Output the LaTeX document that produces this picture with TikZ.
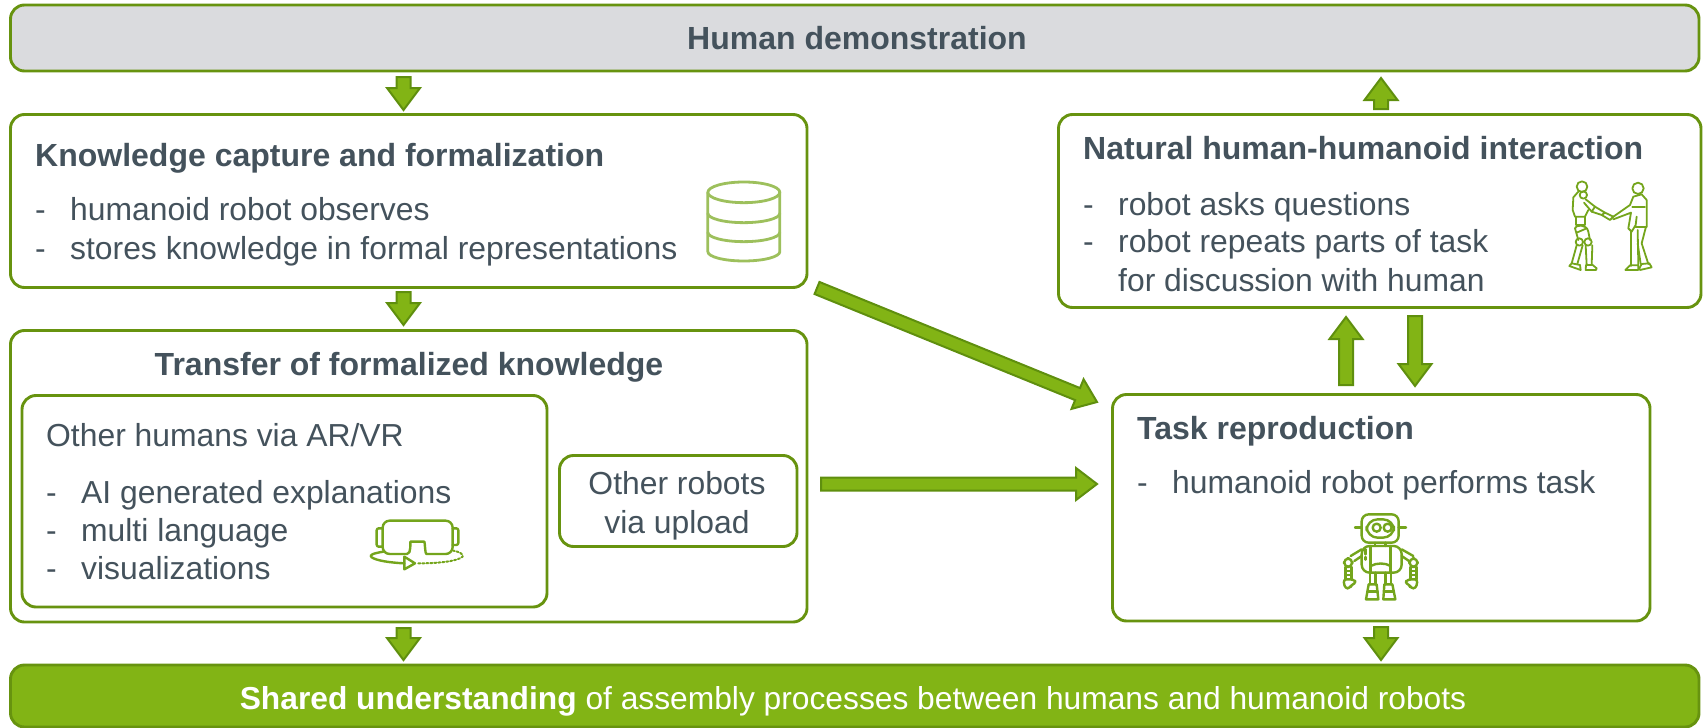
\documentclass[tikz,border=0pt]{standalone}
\usepackage{fontspec}
\setmainfont{Liberation Sans}
\usetikzlibrary{calc}
\definecolor{grn}{HTML}{82B415}
\definecolor{grnd}{HTML}{5F8F0E}
\definecolor{bord}{HTML}{67930F}
\definecolor{txt}{HTML}{44525C}
\definecolor{gry}{HTML}{DADBDE}
\definecolor{iconc}{HTML}{9DC05C}
\definecolor{iconb}{HTML}{74A51C}
\tikzset{
  box/.style={draw=bord,line width=2.9pt,rounded corners=14pt,fill=white,inner sep=0pt,outer sep=0pt,anchor=north west},
  ttl/.style={font=\fontsize{32}{36}\selectfont\bfseries,text=txt,inner sep=0pt,anchor=mid west,yshift=-8pt},
  ttlc/.style={ttl,anchor=mid},
  body/.style={font=\fontsize{31.85}{36}\selectfont,text=txt,inner sep=0pt,anchor=mid west,yshift=-9pt},
  bodyc/.style={body,anchor=mid},
  blk/.style={draw=grnd,fill=grn,line width=2pt,miter limit=10},
  ic/.style={draw=iconb,line width=2.4pt,line cap=round,line join=round,fill=none},
}
\newcommand{\rbox}[6]{\node[box,minimum width=#4pt-#2pt,minimum height=#5pt-#3pt,#6] (#1) at (#2,#3) {};}
% block arrow: from, to, half shaft, half head, head length
\newcommand{\blockarrow}[5]{%
  \coordinate (bs) at ($(#2)!#5pt!(#1)$);
  \draw[blk] ($(#1)!#3pt!90:(#2)$) -- ($(bs)!#3pt!90:(#2)$) -- ($(bs)!#4pt!90:(#2)$) -- (#2)
    -- ($(bs)!#4pt!-90:(#2)$) -- ($(bs)!#3pt!-90:(#2)$) -- ($(#1)!#3pt!-90:(#2)$) -- cycle;}
\newcommand{\dashitem}[1]{\makebox[35pt][l]{-}#1}
\begin{document}
\begin{tikzpicture}[x=1pt,y=-1pt]
\useasboundingbox (0,0) rectangle (1705,728);
% boxes
\rbox{demo}{10.5}{5}{1699}{71}{fill=gry}
\rbox{know}{10.5}{114.5}{807}{287.5}{}
\rbox{trans}{10.5}{330.5}{807}{622}{}
\rbox{hum}{22}{395.5}{547}{607}{}
\rbox{rob}{559.5}{455.5}{797}{546.5}{}
\rbox{task}{1112.5}{394.5}{1650}{621}{}
\rbox{nat}{1058.5}{114.5}{1701}{307.5}{}
\rbox{shared}{10.5}{665}{1699}{727}{fill=grn}
% texts
\node[ttlc] (t1) at (857,39) {Human demonstration};
\node[ttl] (t2) at (35,155.5) {Knowledge capture and formalization};
\node[body] (k1) at (35,209) {\dashitem{humanoid robot observes}};
\node[body] (k2) at (35,248) {\dashitem{stores knowledge in formal representations}};
\node[ttlc] (t3) at (409,365) {Transfer of formalized knowledge};
\node[body] (h0) at (46,435) {Other humans via AR/VR};
\node[body] (h1) at (46,492) {\dashitem{AI generated explanations}};
\node[body] (h2) at (46,530) {\dashitem{multi language}};
\node[body] (h3) at (46,568) {\dashitem{visualizations}};
\node[bodyc] (r1) at (677,483) {Other robots};
\node[bodyc] (r2) at (677,522) {via upload};
\node[ttl] (t4) at (1137,429) {Task reproduction};
\node[body] (tk1) at (1137,482) {\dashitem{humanoid robot performs task}};
\node[ttl] (t5) at (1083,149) {Natural human-humanoid interaction};
\node[body] (n1) at (1083,204) {\dashitem{robot asks questions}};
\node[body] (n2) at (1083,241) {\dashitem{robot repeats parts of task}};
\node[body] (n3) at (1118,280) {for discussion with human};
\node[bodyc,font=\fontsize{31.75}{36}\selectfont,text=white] (t6) at (853,698) {\textbf{Shared understanding} of assembly processes between humans and humanoid robots};
% arrows
\coordinate (a1s) at (403.5,77);   \coordinate (a1e) at (403.5,110);
\coordinate (a2s) at (403.5,292);  \coordinate (a2e) at (403.5,325);
\coordinate (a3s) at (403.5,628);  \coordinate (a3e) at (403.5,660);
\coordinate (a4s) at (1381,109);   \coordinate (a4e) at (1381,78);
\coordinate (a5s) at (1381,627);   \coordinate (a5e) at (1381,660);
\coordinate (a6s) at (1346,385);   \coordinate (a6e) at (1346,317);
\coordinate (a7s) at (1415,316);   \coordinate (a7e) at (1415,386);
\coordinate (a8s) at (817,288);    \coordinate (a8e) at (1097,402);
\coordinate (a9s) at (821,484);    \coordinate (a9e) at (1097,484);
\blockarrow{a1s}{a1e}{7}{16.5}{22}
\blockarrow{a2s}{a2e}{7}{16.5}{22}
\blockarrow{a3s}{a3e}{7}{16.5}{22}
\blockarrow{a4s}{a4e}{7}{16.5}{22}
\blockarrow{a5s}{a5e}{7}{16.5}{22}
\blockarrow{a6s}{a6e}{7}{16.5}{22}
\blockarrow{a7s}{a7e}{7}{16.5}{22}
\blockarrow{a8s}{a8e}{6.5}{16}{21}
\blockarrow{a9s}{a9e}{6.5}{16}{21}
% database icon
\begin{scope}[shift={(660,160)},x=0.3333pt,y=-0.3333pt,ic,draw=iconc,line width=2.8pt]
\draw (251.5,97) ellipse [x radius=108,y radius=31];
\draw (143.5,97) -- (143.5,275) arc[start angle=180,end angle=0,x radius=108,y radius=28] -- (359.5,97);
\draw (143.5,160) arc[start angle=180,end angle=0,x radius=108,y radius=28];
\draw (143.5,217) arc[start angle=180,end angle=0,x radius=108,y radius=28];
\end{scope}
% VR goggles icon
\begin{scope}[shift={(350,500)},x=0.3333pt,y=-0.3333pt,ic]
\draw[rounded corners=7pt] (98,162) -- (98,62) -- (308,62) -- (308,162) -- (250,162)
  .. controls (225,162) and (225,125) .. (202,125) .. controls (180,125) and (185,162) .. (150,162) -- cycle;
\draw[rounded corners=2pt] (98,85) -- (80,85) -- (80,140) -- (98,140);
\draw[rounded corners=2pt] (308,85) -- (325,85) -- (325,135) -- (308,135);
\draw (100,155) .. controls (70,160) and (55,165) .. (65,172) .. controls (80,182) and (120,188) .. (163,190);
\draw (163,170) -- (195,190) -- (163,208) -- cycle;
\draw[dotted,line width=2pt] (205,190) .. controls (260,190) and (320,185) .. (338,170) .. controls (340,160) and (325,155) .. (310,152);
\end{scope}
% robot icon
\begin{scope}[shift={(1320,501)},x=0.3333pt,y=-0.3333pt,ic]
\draw[rounded corners=7pt] (125,40) rectangle (236,125);
\draw[rounded corners=11pt] (140,55) rectangle (222,110);
\draw (170,80) circle[radius=12];
\draw (203,80) circle[radius=12];
\draw (105,80) -- (125,80);
\draw (236,80) -- (258,80);
\draw (165,125) -- (165,135);
\draw (197,125) -- (197,135);
\draw[rounded corners=8pt] (125,135) rectangle (245,215);
\draw (152,135) -- (152,215);
\draw (212,135) -- (212,215);
\draw (152,195) .. controls (170,185) and (195,185) .. (212,195);
\draw (137,145) -- (137,160);
\draw (137,168) -- (137,176);
\draw (125,145) -- (92,165);
\draw (125,165) -- (103,180);
\draw (245,145) -- (280,165);
\draw (245,165) -- (267,180);
\draw[rounded corners=5pt] (72,172) rectangle (97,198);
\draw (76,198) -- (76,235);
\draw (94,198) -- (94,235);
\draw (76,210) -- (94,210);
\draw (76,222) -- (94,222);
\draw[rounded corners=3pt] (70,235) -- (100,235) -- (110,245) -- (95,250) -- (90,262) -- (75,262) -- cycle;
\draw[rounded corners=5pt] (268,172) rectangle (293,198);
\draw (272,198) -- (272,235);
\draw (289,198) -- (289,235);
\draw (272,210) -- (289,210);
\draw (272,222) -- (289,222);
\draw[rounded corners=3pt] (293,235) -- (265,235) -- (253,245) -- (268,250) -- (272,262) -- (288,262) -- cycle;
\draw (150,215) -- (150,250);
\draw (166,215) -- (166,250);
\draw (197,215) -- (197,250);
\draw (213,215) -- (213,250);
\draw (146,250) -- (170,250) -- (175,295) -- (138,295) -- cycle;
\draw (193,250) -- (217,250) -- (226,295) -- (190,295) -- cycle;
\draw (142,272) -- (173,272);
\draw (192,272) -- (221,272);
\end{scope}
% handshake icon
\begin{scope}[shift={(1520,160)},x=0.3333pt,y=-0.3333pt,ic,line width=1.8pt]
% humanoid
\draw (186,80) circle[radius=16];
\draw (175,95) -- (160,112) -- (158,150) -- (165,170) -- (195,170) -- (205,150);
\draw (190,105) circle[radius=11];
\draw (197,118) -- (225,140) -- (215,155) -- (192,128);
\draw (225,140) -- (255,158) -- (245,165) -- (215,155);
\draw (255,158) -- (280,170) -- (270,180) -- (245,165);
\draw (168,170) -- (168,195) -- (195,195) -- (195,170);
\draw (165,205) .. controls (165,195) and (200,190) .. (205,215) -- (210,240);
\draw (165,205) -- (175,240);
\draw (170,218) -- (200,205);
\draw (178,246) circle[radius=11];
\draw (204,246) circle[radius=11];
\draw (170,256) -- (155,310);
\draw (188,256) -- (172,312);
\draw (197,256) -- (200,315);
\draw (217,256) -- (215,315);
\draw (148,318) -- (155,310) -- (180,315) -- (182,330) -- cycle;
\draw (197,330) -- (198,315) -- (218,315) -- (230,325) -- (228,330) -- cycle;
% human
\draw (354,85) circle[radius=17];
\draw (280,170) -- (330,135) -- (340,110) -- (365,103) -- (380,120) -- (380,200);
\draw (280,178) -- (333,158) -- (325,205) -- (335,215) -- (347,195) -- (350,170);
\draw (337,140) -- (375,140);
\draw (347,200) -- (380,200);
\draw (333,212) -- (333,318);
\draw (353,210) -- (355,315);
\draw (378,200) -- (365,250) -- (385,312);
\draw (353,250) -- (362,312);
\draw (316,330) -- (330,316) -- (355,316) -- (355,330) -- cycle;
\draw (358,325) -- (365,312) -- (388,310) -- (395,322) -- (360,330) -- cycle;
\end{scope}
\end{tikzpicture}
\end{document}
